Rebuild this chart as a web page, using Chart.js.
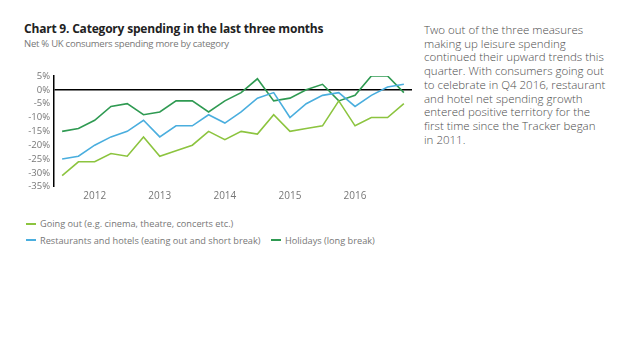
<!DOCTYPE html>
<html>
<head>
<meta charset="utf-8">
<script src="https://cdn.jsdelivr.net/npm/chart.js@4/dist/chart.umd.min.js"></script>
<style>
  html, body { margin: 0; padding: 0; background: #fff; }
  body { width: 638px; height: 359px; position: relative; overflow: hidden; font-family: "Open Sans", sans-serif; }
  #title { position: absolute; left: 24px; top: 20px; font-size: 12px; font-weight: 700; color: #222; white-space: nowrap; letter-spacing: -0.2px; }
  #subtitle { position: absolute; left: 24px; top: 37px; font-size: 9.5px; color: #777; white-space: nowrap; letter-spacing: -0.25px; }
  #wrap { position: absolute; left: 0; top: 0; width: 420px; height: 205px; }
  #side { position: absolute; left: 424px; top: 23px; font-size: 11.5px; line-height: 13.7px; color: #4d4d4d; font-weight: 300; white-space: nowrap; }
  #legend { position: absolute; left: 26px; top: 217px; font-size: 9.2px; color: #777; }
  .li { position: absolute; white-space: nowrap; }
  .li span.sw { display: inline-block; width: 10px; height: 2px; vertical-align: middle; margin-right: 4px; position: relative; top: -1px; }
</style>
</head>
<body>
<div id="title">Chart 9. Category spending in the last three months</div>
<div id="subtitle">Net % UK consumers spending more by category</div>
<div id="wrap"><canvas id="c"></canvas></div>
<div id="legend"></div>
<div id="side">Two out of the three measures<br>making up leisure spending<br>continued their upward trends this<br>quarter. With consumers going out<br>to celebrate in Q4 2016, restaurant<br>and hotel net spending growth<br>entered positive territory for the<br>first time since the Tracker began<br>in 2011.</div>
<script>
const quarters = ['Q3 2011','Q4 2011',
  'Q1 2012','Q2 2012','Q3 2012','Q4 2012',
  'Q1 2013','Q2 2013','Q3 2013','Q4 2013',
  'Q1 2014','Q2 2014','Q3 2014','Q4 2014',
  'Q1 2015','Q2 2015','Q3 2015','Q4 2015',
  'Q1 2016','Q2 2016','Q3 2016','Q4 2016'];
const yearTicks = ['2012','2013','2014','2015','2016'];
const goingOut    = [-31,-26,-26,-23,-24,-17,-24,-22,-20,-15,-18,-15,-16,-9,-15,-14,-13,-4,-13,-10,-10,-5];
const restaurants = [-25,-24,-20,-17,-15,-11,-17,-13,-13,-9,-12,-8,-3,-1,-10,-5,-2,-1,-6,-2,1,2];
const holidays    = [-15,-14,-11,-6,-5,-9,-8,-4,-4,-8,-4,-1,4,-4,-3,0,2,-4,-2,5,5,-1];
const seriesNames = ['Going out (e.g. cinema, theatre, concerts etc.)',
  'Restaurants and hotels (eating out and short break)',
  'Holidays (long break)'];
const colors = ['#8cc43f', '#4aaede', '#2f9a52'];
const yTicks = [5,0,-5,-10,-15,-20,-25,-30,-35];

const datasets = [goingOut, restaurants, holidays].map((d, i) => ({
  label: seriesNames[i], data: d, borderColor: colors[i], backgroundColor: colors[i],
  borderWidth: 1.6, pointRadius: 0, tension: 0, fill: false
}));

new Chart(document.getElementById('c'), {
  type: 'line',
  data: { labels: quarters, datasets },
  options: {
    responsive: true, maintainAspectRatio: false, animation: false,
    layout: { padding: { left: 0, right: 8, top: 76, bottom: 0 } },
    plugins: { legend: { display: false }, tooltip: { enabled: false } },
    scales: {
      x: {
        offset: true,
        grid: { display: false, drawTicks: false },
        border: { display: false },
        afterFit: s => { s.height = 18.3; },
        ticks: {
          autoSkip: false, maxRotation: 0, padding: 3,
          color: '#777', font: { family: 'Open Sans', size: 10 },
          callback: function(v, i) {
            const q = quarters[i];
            return q.startsWith('Q1') && yearTicks.includes(q.slice(3)) ? q.slice(3) : '';
          }
        }
      },
      y: {
        min: Math.min(...yTicks), max: Math.max(...yTicks),
        afterFit: s => { s.width = 54; },
        afterBuildTicks: s => { s.ticks = yTicks.map(v => ({ value: v })); },
        border: { display: true, color: '#000', width: 1.5 },
        grid: {
          drawTicks: false,
          color: c => c.tick && c.tick.value === 0 ? '#000' : 'rgba(0,0,0,0)',
          lineWidth: c => c.tick && c.tick.value === 0 ? 1.5 : 0
        },
        ticks: {
          autoSkip: false,
          padding: 4, color: '#777', font: { family: 'Open Sans', size: 9.5 },
          callback: v => v + '%'
        }
      }
    }
  }
});

const leg = document.getElementById('legend');
const pos = [[0, 0], [0, 16.5], [245, 16.5]];
seriesNames.forEach((n, i) => {
  const d = document.createElement('div');
  d.className = 'li';
  d.style.left = pos[i][0] + 'px';
  d.style.top = pos[i][1] + 'px';
  d.innerHTML = '<span class="sw" style="background:' + colors[i] + '"></span>' + n;
  leg.appendChild(d);
});
</script>
</body>
</html>
